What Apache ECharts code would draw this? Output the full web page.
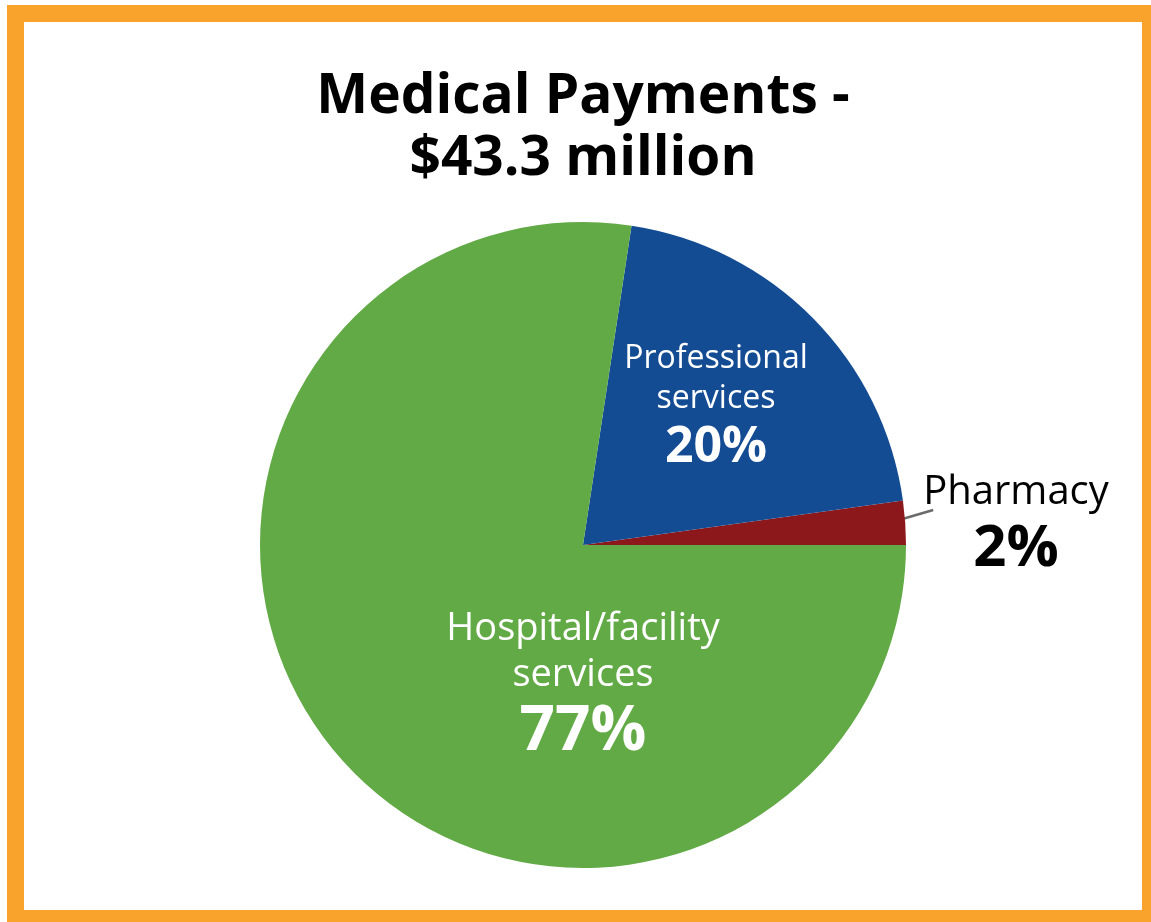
<!DOCTYPE html>
<html><head><meta charset="utf-8">
<script src="https://cdn.jsdelivr.net/npm/echarts@6/dist/echarts.min.js"></script>
<style>html,body{margin:0;padding:0;background:#fff;overflow:hidden}#c{width:1151px;height:922px}</style>
</head><body><div id="c"></div>
<script>
const titleLines = ['Medical Payments -', '$43.3 million'];
const categories = ['Pharmacy', 'Professional services', 'Hospital/facility services'];
const shares = [2.2, 20.4, 77.4];
const colors = ['#8D181B', '#144C94', '#62AA46'];
const labelSpots = [[1016, 524], [716, 408], [583, 686]];

const FONT = '"Open Sans", "Noto Sans", sans-serif';
const chart = echarts.init(document.getElementById('c'), null, {renderer: 'canvas'});

function splitName(n) { return n.replace(' services', '\nservices'); }

const labelStyles = [
  { color: '#000', rich: {
      n: {fontFamily: FONT, fontSize: 40, lineHeight: 50, color: '#000'},
      p: {fontFamily: FONT, fontSize: 58, fontWeight: 'bold', lineHeight: 62, color: '#000'} } },
  { color: '#fff', rich: {
      n: {fontFamily: FONT, fontSize: 32, lineHeight: 40, color: '#fff'},
      p: {fontFamily: FONT, fontSize: 50, fontWeight: 'bold', lineHeight: 58, color: '#fff'} } },
  { color: '#fff', rich: {
      n: {fontFamily: FONT, fontSize: 38, lineHeight: 46, color: '#fff'},
      p: {fontFamily: FONT, fontSize: 62, fontWeight: 'bold', lineHeight: 68, color: '#fff'} } }
];

const option = {
  animation: false,
  backgroundColor: '#fff',
  title: {
    text: titleLines.join('\n'),
    left: 578, textAlign: 'center', top: 61,
    textStyle: {fontFamily: FONT, fontWeight: 'bold', fontSize: 55, lineHeight: 62, color: '#000'}
  },
  graphic: [{
    type: 'rect', silent: true, z: 100,
    shape: {x: 15.5, y: 13.5, width: 1135, height: 905},
    style: {fill: null, stroke: '#F9A22C', lineWidth: 17}
  }],
  series: [{
    type: 'pie',
    center: [583, 545],
    radius: 323,
    startAngle: 0,
    clockwise: false,
    itemStyle: {borderWidth: 0},
    labelLine: {show: true, length: 20, length2: 10, lineStyle: {color: '#6B6B6B', width: 2.5}},
    labelLayout: function (params) {
      const i = params.dataIndex;
      const out = {x: labelSpots[i][0], y: labelSpots[i][1], align: 'center', verticalAlign: 'middle'};
      if (i === 0 && params.labelLinePoints) {
        const p0 = params.labelLinePoints[0], p1 = params.labelLinePoints[1];
        const dx = p1[0] - p0[0], dy = p1[1] - p0[1];
        const L = Math.hypot(dx, dy) || 1;
        const start = [p0[0] - dx / L * 20, p0[1] - dy / L * 20];
        const end = [labelSpots[0][0] - params.labelRect.width / 2 + 10, labelSpots[0][1] - 14];
        out.labelLinePoints = [start, [(start[0] + end[0]) / 2, (start[1] + end[1]) / 2], end];
      }
      return out;
    },
    data: categories.map((n, i) => ({
      name: n,
      value: shares[i],
      itemStyle: {color: colors[i]},
      label: Object.assign({
        show: true,
        position: i === 0 ? 'outside' : 'inside',
        align: 'center',
        formatter: function (p) { return '{n|' + splitName(p.name) + '}\n{p|' + Math.round(p.percent) + '%}'; }
      }, labelStyles[i]),
      labelLine: {show: i === 0}
    }))
  }]
};
chart.setOption(option);
</script>
</body></html>
